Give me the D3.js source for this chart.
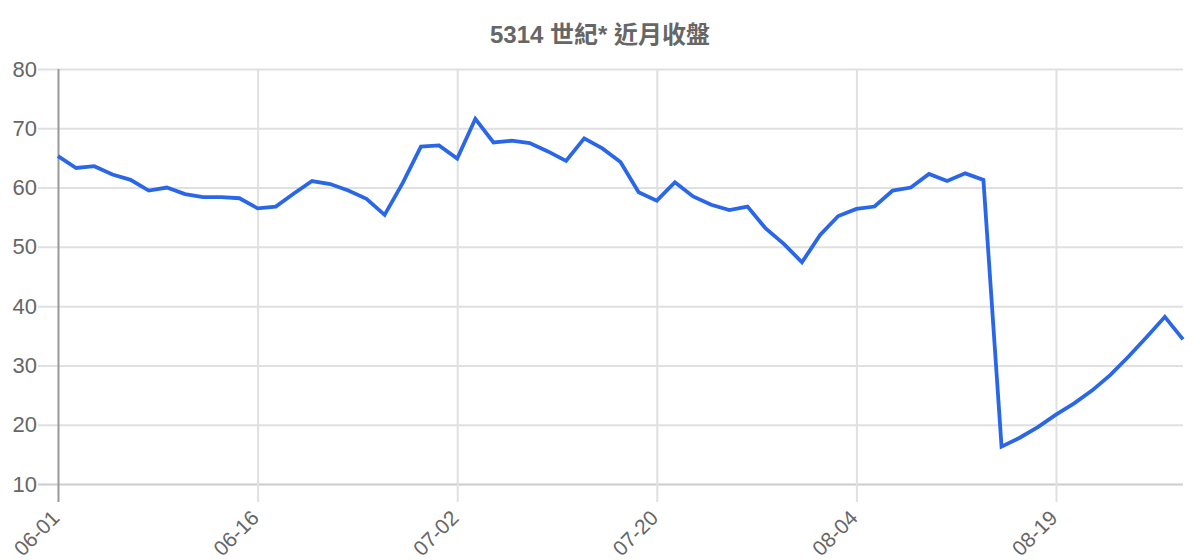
<!DOCTYPE html>
<html>
<head>
<meta charset="utf-8">
<script src="https://cdn.jsdelivr.net/npm/d3@7"></script>
<style>
  body { margin: 0; background: #fff; }
  text { font-family: "Liberation Sans", Arial, "Noto Sans CJK TC", sans-serif; }
</style>
</head>
<body>
<div id="chart"></div>
<script>
const title = "5314 世紀* 近月收盤";

const dates = [
  "06-01","06-02","06-03","06-04","06-05","06-08","06-09","06-10","06-11","06-12",
  "06-15","06-16","06-17","06-18","06-19","06-20","06-22","06-23","06-24","06-29",
  "06-30","07-01","07-02","07-06","07-07","07-08","07-09","07-10","07-13","07-14",
  "07-15","07-16","07-17","07-20","07-21","07-22","07-23","07-24","07-27","07-28",
  "07-29","07-30","07-31","08-03","08-04","08-05","08-06","08-07","08-10","08-11",
  "08-12","08-13","08-14","08-17","08-18","08-19","08-20","08-21","08-24","08-25",
  "08-26","08-27","08-28"
];

const closes = [
  65.3, 63.3, 63.6, 62.2, 61.3, 59.5, 60.0, 58.9, 58.4, 58.4,
  58.2, 56.5, 56.8, 59.0, 61.1, 60.6, 59.5, 58.1, 55.4, 60.8,
  66.9, 67.1, 64.9, 71.6, 67.6, 67.9, 67.5, 66.1, 64.5, 68.3,
  66.6, 64.3, 59.2, 57.8, 60.9, 58.5, 57.1, 56.2, 56.8, 53.1,
  50.5, 47.4, 52.0, 55.2, 56.4, 56.8, 59.5, 60.0, 62.3, 61.1,
  62.4, 61.3, 16.3, 17.8, 19.6, 21.7, 23.6, 25.8, 28.4, 31.5,
  34.8, 38.2, 34.4
];

const tickDates = ["06-01","06-16","07-02","07-20","08-04","08-19"];
const yTicks = [10, 20, 30, 40, 50, 60, 70, 80];

const width = 1200;
const height = 560;
const margin = {top: 69, right: 17, bottom: 76, left: 58};

const svg = d3.select("#chart")
  .append("svg").attr("width", width).attr("height", height);

const x = d3.scalePoint()
  .domain(dates)
  .range([margin.left, width - margin.right]);

const y = d3.scaleLinear()
  .domain([10, 80])
  .range([height - margin.bottom, margin.top]);

// title
svg.append("text")
  .attr("x", 600)
  .attr("y", 43)
  .attr("text-anchor", "middle")
  .attr("font-size", 24)
  .attr("font-weight", "bold")
  .attr("fill", "#666")
  .text(title);

// horizontal grid + y labels
const yAxis = d3.axisLeft(y)
  .tickValues(yTicks)
  .tickSize(0)
  .tickPadding(4)
  .tickFormat(d3.format("d"));

const gy = svg.append("g")
  .attr("transform", `translate(${margin.left - 20},0)`)
  .call(yAxis);
gy.select(".domain").remove();
gy.selectAll(".tick line")
  .attr("stroke", d => d === 10 ? "#ccc" : "#e0e0e0")
  .attr("stroke-width", 2)
  .attr("x1", 0)
  .attr("x2", width - margin.right - margin.left + 20);
gy.selectAll(".tick text")
  .attr("fill", "#666")
  .attr("font-size", 22)
  .attr("x", -1);

// vertical grid + x labels
const xAxis = d3.axisBottom(x)
  .tickValues(tickDates)
  .tickSize(height - margin.bottom - margin.top + 18)
  .tickSizeOuter(0);

const gx = svg.append("g")
  .attr("transform", `translate(0,${margin.top})`)
  .call(xAxis);
gx.select(".domain").remove();
gx.selectAll(".tick line")
  .attr("stroke", d => d === dates[0] ? "#999" : "#e0e0e0")
  .attr("stroke-width", 2);
gx.selectAll(".tick text")
  .attr("fill", "#666")
  .attr("font-size", 21)
  .attr("text-anchor", "end")
  .attr("y", 0)
  .attr("dy", "0.35em")
  .attr("transform", `translate(-3,${height - margin.bottom - margin.top + 30}) rotate(-45)`);

// left axis line sits above the horizontal gridlines
gx.raise();

// close line
const line = d3.line()
  .x((d, i) => x(dates[i]))
  .y(d => y(d));

svg.append("path")
  .datum(closes)
  .attr("fill", "none")
  .attr("stroke", "#2a67e8")
  .attr("stroke-width", 3.8)
  .attr("stroke-linejoin", "miter")
  .attr("d", line);
</script>
</body>
</html>
